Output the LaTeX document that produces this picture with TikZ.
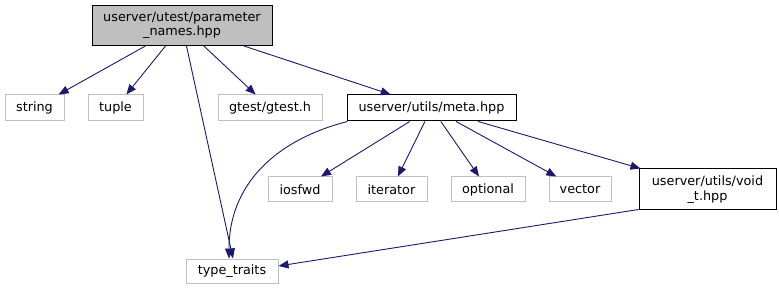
\documentclass[tikz,border=0pt]{standalone}
\usepackage{fontspec}
\setmainfont{DejaVu Sans}
\usetikzlibrary{arrows.meta,calc}
\definecolor{edgeblue}{HTML}{191970}
\definecolor{boxgray}{HTML}{BFBFBF}
\tikzset{
  file/.style={draw=black, line width=1pt, fill=white, inner sep=0pt, align=center,
    font=\fontsize{12.8pt}{14.5pt}\selectfont},
  sysfile/.style={file, draw=boxgray, line width=1pt},
  rootfile/.style={file, fill=boxgray},
  dep/.style={draw=edgeblue, line width=0.9pt, -{Triangle[length=10pt,width=8pt]}},
}
\begin{document}
\begin{tikzpicture}[x=1pt,y=-1pt]
\useasboundingbox (0,0) rectangle (779,291);
% files
\node[rootfile, minimum width=180, minimum height=40] (root) at (182,25.5) {userver/utest/parameter\\\_names.hpp};
\node[sysfile, minimum width=59, minimum height=26] (string) at (34.5,108) {string};
\node[sysfile, minimum width=55, minimum height=26] (tuple) at (115.5,108) {tuple};
\node[sysfile, minimum width=104, minimum height=26] (gtest) at (270,108) {gtest/gtest.h};
\node[file, minimum width=169, minimum height=26] (meta) at (431.5,108) {userver/utils/meta.hpp};
\node[sysfile, minimum width=64, minimum height=25] (iosfwd) at (300,189.5) {iosfwd};
\node[sysfile, minimum width=71, minimum height=25] (iterator) at (391.5,189.5) {iterator};
\node[sysfile, minimum width=74, minimum height=25] (optional) at (488,189.5) {optional};
\node[sysfile, minimum width=62, minimum height=25] (vector) at (580,189.5) {vector};
\node[file, minimum width=137, minimum height=41] (voidt) at (707.5,189.5) {userver/utils/void\\\_t.hpp};
\node[sysfile, minimum width=92, minimum height=24] (tt) at (232,271) {type\_traits};
% include edges
\draw[dep] (root) -- (string);
\draw[dep] (root) -- (tuple);
\draw[dep] (root) -- ($(tt.north)+(1,0)$);
\draw[dep] (root) -- (gtest);
\draw[dep] (root) -- (meta);
\draw[dep] ($(meta.south west)+(1,0)$) .. controls (275,140) and (229,185) .. ($(tt.north)+(-3,0)$);
\draw[dep] (meta) -- (iosfwd);
\draw[dep] (meta) -- (iterator);
\draw[dep] (meta) -- (optional);
\draw[dep] (meta) -- (vector);
\draw[dep] (meta) -- ($(voidt.north west)+(2,0)$);
\draw[dep] ($(voidt.south west)+(0,-1)$) -- ($(tt.east)+(0,-5)$);
\end{tikzpicture}
\end{document}
